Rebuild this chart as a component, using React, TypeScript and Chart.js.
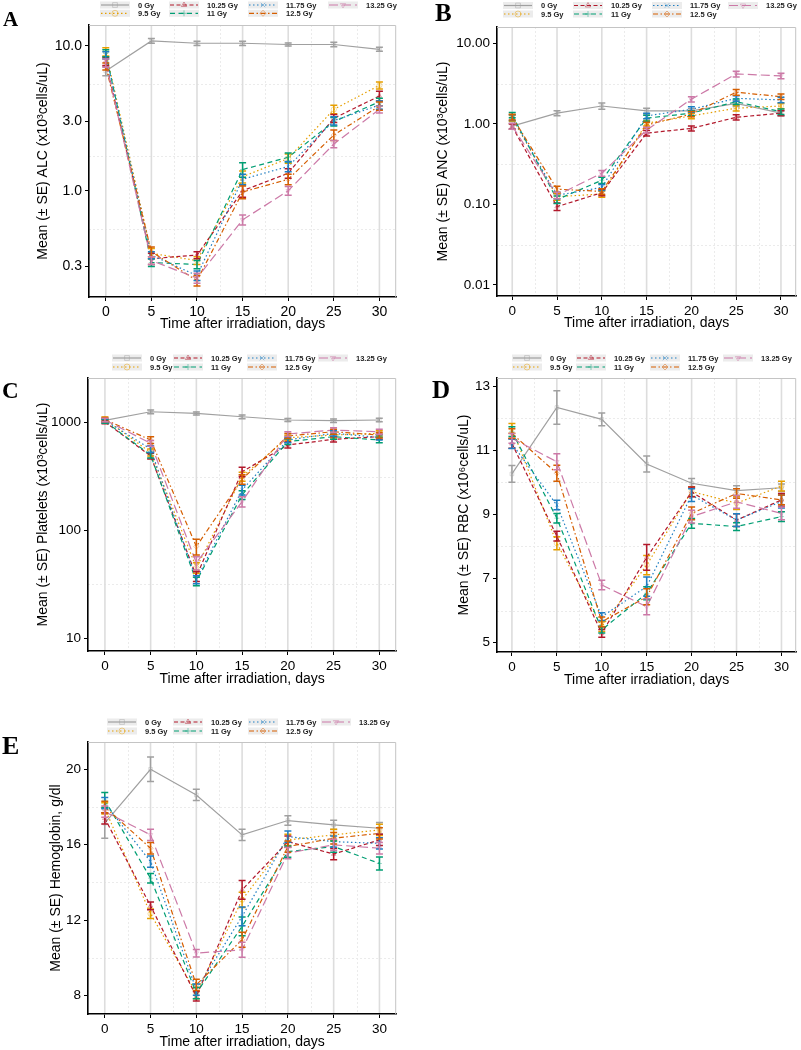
import React, { useEffect, useRef } from 'react';
import { Chart, registerables } from 'chart.js';

Chart.register(...registerables);

const FONT = '"Liberation Sans", Arial, Helvetica, sans-serif';
const SERIF = '"Liberation Serif", "Times New Roman", serif';
Chart.defaults.font.family = FONT;
Chart.defaults.color = '#000';

// ---------------- data ----------------
const DAYS = [0, 5, 10, 15, 20, 25, 30];
const MINOR_DAYS = [2.5, 7.5, 12.5, 17.5, 22.5, 27.5];
const GROUPS = ['0 Gy', '9.5 Gy', '10.25 Gy', '11 Gy', '11.75 Gy', '12.5 Gy', '13.25 Gy'];
const X_TITLE = 'Time after irradiation, days';

// ALC (x10^3 cells/uL)
const ALC_MEAN = [
  [6.7, 10.8, 10.4, 10.4, 10.2, 10.2, 9.45],
  [9.1, 0.37, 0.33, 1.25, 1.67, 3.64, 5.33],
  [7.8, 0.34, 0.36, 1.0, 1.32, 3.16, 4.5],
  [8.9, 0.32, 0.31, 1.4, 1.7, 3.0, 4.1],
  [8.6, 0.36, 0.26, 1.2, 1.47, 3.04, 3.9],
  [7.2, 0.38, 0.24, 0.98, 1.2, 2.42, 3.84],
  [7.6, 0.33, 0.25, 0.63, 1.0, 2.1, 3.64],
];
const ALC_SE = [
  [0.5, 0.4, 0.35, 0.35, 0.25, 0.35, 0.3],
  [0.6, 0.03, 0.02, 0.12, 0.12, 0.25, 0.3],
  [0.5, 0.03, 0.02, 0.1, 0.1, 0.2, 0.35],
  [0.5, 0.02, 0.02, 0.16, 0.12, 0.2, 0.25],
  [0.5, 0.02, 0.02, 0.1, 0.12, 0.2, 0.25],
  [0.4, 0.03, 0.02, 0.1, 0.1, 0.2, 0.25],
  [0.5, 0.02, 0.02, 0.05, 0.07, 0.12, 0.2],
];
const ALC_TICKS = [0.3, 1, 3, 10];
const ALC_TICK_LABELS = ['0.3', '1.0', '3.0', '10.0'];
const ALC_MINOR = [0.5477, 1.732, 5.477];

// ANC (x10^3 cells/uL)
const ANC_MEAN = [
  [0.94, 1.36, 1.67, 1.45, 1.45, 1.8, 1.36],
  [1.18, 0.125, 0.135, 1.02, 1.26, 1.57, 1.67],
  [0.93, 0.094, 0.14, 0.77, 0.88, 1.21, 1.36],
  [1.29, 0.115, 0.2, 1.18, 1.36, 1.89, 1.42],
  [1.2, 0.13, 0.163, 1.26, 1.52, 2.08, 1.99],
  [1.22, 0.155, 0.145, 0.97, 1.33, 2.48, 2.18],
  [0.94, 0.13, 0.244, 0.84, 2.03, 4.18, 3.95],
];
const ANC_SE = [
  [0.07, 0.1, 0.15, 0.12, 0.1, 0.15, 0.1],
  [0.1, 0.012, 0.012, 0.08, 0.1, 0.12, 0.13],
  [0.07, 0.01, 0.012, 0.06, 0.06, 0.09, 0.1],
  [0.1, 0.012, 0.018, 0.1, 0.1, 0.15, 0.11],
  [0.1, 0.012, 0.014, 0.1, 0.12, 0.16, 0.15],
  [0.1, 0.014, 0.012, 0.08, 0.1, 0.2, 0.17],
  [0.08, 0.012, 0.02, 0.07, 0.15, 0.35, 0.3],
];
const ANC_TICKS = [0.01, 0.1, 1, 10];
const ANC_TICK_LABELS = ['0.01', '0.10', '1.00', '10.00'];
const ANC_MINOR = [0.03162, 0.3162, 3.162];

// Platelets (x10^3 cells/uL)
const PLT_MEAN = [
  [1050, 1264, 1220, 1136, 1059, 1044, 1059],
  [1080, 530, 45, 316, 725, 768, 797],
  [1020, 490, 37.5, 351, 621, 701, 742],
  [1030, 500, 33.7, 214, 667, 742, 691],
  [1050, 570, 35, 238, 691, 797, 731],
  [1070, 691, 71, 299, 753, 825, 768],
  [1060, 644, 50, 185, 785, 855, 825],
];
const PLT_SE = [
  [40, 50, 40, 45, 35, 40, 40],
  [50, 40, 5, 30, 40, 45, 45],
  [40, 30, 4, 35, 40, 40, 40],
  [40, 30, 3, 20, 40, 40, 40],
  [40, 40, 3, 25, 40, 45, 40],
  [50, 50, 12, 30, 40, 45, 45],
  [40, 40, 7, 20, 40, 45, 45],
];
const PLT_TICKS = [10, 100, 1000];
const PLT_TICK_LABELS = ['10', '100', '1000'];
const PLT_MINOR = [31.62, 316.2];

// RBC (x10^6 cells/uL)
const RBC_MEAN = [
  [10.26, 12.33, 11.96, 10.57, 9.97, 9.74, 9.83],
  [11.68, 8.1, 5.5, 7.42, 9.71, 9.35, 9.88],
  [11.21, 8.32, 5.29, 7.66, 9.7, 8.82, 9.45],
  [11.58, 8.88, 5.4, 6.54, 8.72, 8.62, 8.93],
  [11.2, 9.29, 5.81, 6.75, 9.6, 8.82, 9.4],
  [11.52, 10.28, 5.65, 6.43, 9.03, 9.65, 9.45],
  [11.37, 10.64, 6.8, 6.12, 8.93, 9.39, 9.03],
];
const RBC_SE = [
  [0.26, 0.52, 0.2, 0.25, 0.15, 0.15, 0.12],
  [0.15, 0.2, 0.15, 0.3, 0.15, 0.2, 0.15],
  [0.15, 0.15, 0.12, 0.4, 0.15, 0.2, 0.2],
  [0.15, 0.15, 0.1, 0.2, 0.15, 0.12, 0.15],
  [0.15, 0.15, 0.12, 0.3, 0.2, 0.2, 0.2],
  [0.15, 0.25, 0.15, 0.25, 0.2, 0.15, 0.15],
  [0.15, 0.25, 0.15, 0.25, 0.2, 0.2, 0.2],
];
const RBC_TICKS = [5, 7, 9, 11, 13];
const RBC_TICK_LABELS = ['5', '7', '9', '11', '13'];
const RBC_MINOR = [6, 8, 10, 12];

// Hemoglobin (g/dl)
const HGB_MEAN = [
  [17.14, 20.0, 18.64, 16.52, 17.28, 17.05, 16.87],
  [17.93, 12.33, 8.12, 13.07, 16.25, 16.52, 16.78],
  [17.4, 12.75, 7.95, 13.6, 16.16, 15.5, 16.25],
  [18.37, 14.22, 8.12, 11.66, 15.63, 15.9, 15.0],
  [18.2, 15.1, 8.3, 12.19, 16.43, 16.16, 16.07],
  [18.0, 15.81, 8.56, 10.95, 15.9, 16.34, 16.6],
  [17.75, 16.52, 10.24, 10.42, 15.55, 15.99, 15.81],
];
const HGB_SE = [
  [0.8, 0.65, 0.3, 0.3, 0.25, 0.25, 0.3],
  [0.3, 0.25, 0.3, 0.4, 0.3, 0.3, 0.3],
  [0.3, 0.2, 0.25, 0.5, 0.3, 0.3, 0.3],
  [0.4, 0.25, 0.3, 0.5, 0.3, 0.3, 0.35],
  [0.3, 0.3, 0.3, 0.5, 0.3, 0.3, 0.3],
  [0.3, 0.3, 0.3, 0.4, 0.3, 0.3, 0.3],
  [0.3, 0.3, 0.2, 0.4, 0.3, 0.3, 0.3],
];
const HGB_TICKS = [8, 12, 16, 20];
const HGB_TICK_LABELS = ['8', '12', '16', '20'];
const HGB_MINOR = [10, 14, 18];

// ---------------- styles ----------------
const COLORS = ['#a0a0a0', '#E69F00', '#B2182B', '#009E73', '#1F7EC2', '#D55E00', '#CC79A7'];
const DASHES = [[], [1.5, 2.5], [4, 2.5], [5, 3.5], [1.5, 2.5], [5, 2.5, 1.5, 2.5], [9, 4]];
const SHAPES = ['rect', 'circle', 'triangle', 'cross', 'crossRot', 'rectRot', 'triangle'];
const ROTATIONS = [0, 0, 0, 0, 0, 0, 180];
const LEGEND_COLS = [[0, 1], [2, 3], [4, 5], [6]];

type Panel = {
  letter: string; letterSize: number; letterX: number; letterY: number;
  x: number; y: number; w: number; h: number;
  area: { l: number; t: number; r: number; b: number };
  xMin: number; xMax: number;
  log: boolean; yMin: number; yMax: number;
  ticks: number[]; tickLabels: string[]; minor: number[];
  mean: number[][]; se: number[][];
  yTitle: string; yTitleX: number; xTitleY: number;
  legendX: number; legendRows: number[]; legendCols: number[];
  tickSize: number;
};

const PANELS: Panel[] = [
  {
    letter: 'A', letterSize: 21, letterX: 3, letterY: 26,
    x: 0, y: 0, w: 401, h: 334, area: { l: 89, t: 25, r: 400, b: 297 },
    xMin: -1.84, xMax: 31.84, log: true, yMin: 0.185, yMax: 13.9,
    ticks: ALC_TICKS, tickLabels: ALC_TICK_LABELS, minor: ALC_MINOR, mean: ALC_MEAN, se: ALC_SE,
    yTitle: 'Mean (± SE) ALC (x10³cells/uL)', yTitleX: 43, xTitleY: 324,
    legendX: 100, legendRows: [5, 13.3], legendCols: [0, 69, 148, 228], tickSize: 14,
  },
  {
    letter: 'B', letterSize: 25, letterX: 34, letterY: 21,
    x: 401, y: 0, w: 400, h: 334, area: { l: 96, t: 27, r: 397, b: 296 },
    xMin: -1.7, xMax: 31.7, log: true, yMin: 0.0073, yMax: 16.0,
    ticks: ANC_TICKS, tickLabels: ANC_TICK_LABELS, minor: ANC_MINOR, mean: ANC_MEAN, se: ANC_SE,
    yTitle: 'Mean (± SE) ANC (x10³cells/uL)', yTitleX: 42, xTitleY: 323,
    legendX: 102, legendRows: [5.5, 14], legendCols: [0, 70, 149, 225], tickSize: 13.5,
  },
  {
    letter: 'C', letterSize: 23, letterX: 2, letterY: 64,
    x: 0, y: 334, w: 401, h: 358, area: { l: 88, t: 44, r: 398, b: 317 },
    xMin: -1.85, xMax: 31.85, log: true, yMin: 7.6, yMax: 2600,
    ticks: PLT_TICKS, tickLabels: PLT_TICK_LABELS, minor: PLT_MINOR, mean: PLT_MEAN, se: PLT_SE,
    yTitle: 'Mean (± SE) Platelets (x10³cells/uL)', yTitleX: 43, xTitleY: 345,
    legendX: 112, legendRows: [24, 33], legendCols: [0, 61, 135, 206], tickSize: 13.5,
  },
  {
    letter: 'D', letterSize: 25, letterX: 31, letterY: 64,
    x: 401, y: 334, w: 400, h: 358, area: { l: 96, t: 44, r: 397, b: 318 },
    xMin: -1.66, xMax: 31.64, log: false, yMin: 4.71, yMax: 13.25,
    ticks: RBC_TICKS, tickLabels: RBC_TICK_LABELS, minor: RBC_MINOR, mean: RBC_MEAN, se: RBC_SE,
    yTitle: 'Mean (± SE) RBC (x10⁶cells/uL)', yTitleX: 63, xTitleY: 346,
    legendX: 111, legendRows: [24, 33], legendCols: [0, 64, 138, 211], tickSize: 13.5,
  },
  {
    letter: 'E', letterSize: 26, letterX: 2, letterY: 62,
    x: 0, y: 692, w: 401, h: 358, area: { l: 88, t: 50, r: 400, b: 322 },
    xMin: -1.83, xMax: 31.83, log: false, yMin: 7.01, yMax: 21.45,
    ticks: HGB_TICKS, tickLabels: HGB_TICK_LABELS, minor: HGB_MINOR, mean: HGB_MEAN, se: HGB_SE,
    yTitle: 'Mean (± SE) Hemoglobin, g/dl', yTitleX: 56, xTitleY: 349.7,
    legendX: 107, legendRows: [30, 39], legendCols: [0, 66, 141, 214], tickSize: 13.5,
  },
];

function withAlpha(hex: string, a: number) {
  const n = parseInt(hex.slice(1), 16);
  return `rgba(${(n >> 16) & 255},${(n >> 8) & 255},${n & 255},${a})`;
}

function drawShape(ctx: CanvasRenderingContext2D, shape: string, rot: number, x: number, y: number, r: number) {
  ctx.save();
  ctx.translate(x, y);
  ctx.rotate((rot * Math.PI) / 180);
  ctx.beginPath();
  switch (shape) {
    case 'rect': ctx.rect(-r * 0.8, -r * 0.8, r * 1.6, r * 1.6); break;
    case 'circle': ctx.arc(0, 0, r, 0, Math.PI * 2); break;
    case 'triangle':
      ctx.moveTo(0, -r); ctx.lineTo(r * 0.87, r * 0.5); ctx.lineTo(-r * 0.87, r * 0.5); ctx.closePath(); break;
    case 'cross':
      ctx.moveTo(0, -r); ctx.lineTo(0, r); ctx.moveTo(-r, 0); ctx.lineTo(r, 0); break;
    case 'crossRot': {
      const d = r * 0.75;
      ctx.moveTo(-d, -d); ctx.lineTo(d, d); ctx.moveTo(d, -d); ctx.lineTo(-d, d); break;
    }
    case 'rectRot':
      ctx.moveTo(0, -r); ctx.lineTo(r, 0); ctx.lineTo(0, r); ctx.lineTo(-r, 0); ctx.closePath(); break;
  }
  ctx.stroke();
  ctx.restore();
}

function buildConfig(p: Panel): any {
  const W = p.w;
  const H = p.h;
  const datasets = GROUPS.map((name, g) => ({
    label: name,
    data: DAYS.map((d, i) => ({ x: d, y: p.mean[g][i] })),
    borderColor: COLORS[g],
    backgroundColor: COLORS[g],
    borderWidth: 1.2,
    borderDash: DASHES[g],
    tension: 0,
    pointStyle: SHAPES[g],
    pointRotation: ROTATIONS[g],
    pointRadius: 2.6,
    pointBorderWidth: 0.8,
    pointBorderColor: withAlpha(COLORS[g], 0.45),
    pointBackgroundColor: 'rgba(0,0,0,0)',
    order: GROUPS.length - 1 - g,
    clip: false,
  }));

  const decor = {
    id: 'decor' + p.letter,
    beforeDraw(chart: any) {
      const { ctx, chartArea: a, scales } = chart;
      const xs = scales.x;
      const ys = scales.y;
      ctx.save();
      ctx.beginPath();
      ctx.rect(a.left, a.top, a.right - a.left, a.bottom - a.top);
      ctx.clip();
      // minor grid (dotted, faint)
      ctx.strokeStyle = '#ebebeb';
      ctx.lineWidth = 1;
      ctx.setLineDash([2, 2]);
      MINOR_DAYS.forEach((d) => {
        const px = Math.round(xs.getPixelForValue(d)) + 0.5;
        ctx.beginPath(); ctx.moveTo(px, a.top); ctx.lineTo(px, a.bottom); ctx.stroke();
      });
      p.minor.forEach((v) => {
        const py = Math.round(ys.getPixelForValue(v)) + 0.5;
        ctx.beginPath(); ctx.moveTo(a.left, py); ctx.lineTo(a.right, py); ctx.stroke();
      });
      ctx.setLineDash([]);
      // major vertical grid
      ctx.strokeStyle = '#dddddd';
      ctx.lineWidth = 1.6;
      DAYS.forEach((d) => {
        const px = xs.getPixelForValue(d);
        ctx.beginPath(); ctx.moveTo(px, a.top); ctx.lineTo(px, a.bottom); ctx.stroke();
      });
      ctx.restore();
    },
    afterDatasetsDraw(chart: any) {
      const { ctx, scales } = chart;
      const xs = scales.x;
      const ys = scales.y;
      ctx.save();
      ctx.lineWidth = 1.5;
      ctx.setLineDash([]);
      GROUPS.forEach((_, g) => {
        ctx.strokeStyle = COLORS[g];
        DAYS.forEach((d, i) => {
          const m = p.mean[g][i];
          const s = p.se[g][i];
          const px = xs.getPixelForValue(d);
          const y1 = ys.getPixelForValue(m - s);
          const y2 = ys.getPixelForValue(m + s);
          ctx.beginPath();
          ctx.moveTo(px, y1); ctx.lineTo(px, y2);
          ctx.moveTo(px - 3.5, y1); ctx.lineTo(px + 3.5, y1);
          ctx.moveTo(px - 3.5, y2); ctx.lineTo(px + 3.5, y2);
          ctx.stroke();
        });
      });
      ctx.restore();
    },
    afterDraw(chart: any) {
      const { ctx, chartArea: a } = chart;
      ctx.save();
      // panel border (top, right)
      ctx.strokeStyle = '#c4c4c4';
      ctx.lineWidth = 1;
      ctx.beginPath();
      ctx.moveTo(a.left, a.top + 0.5);
      ctx.lineTo(a.right - 0.5, a.top + 0.5);
      ctx.lineTo(a.right - 0.5, a.bottom);
      ctx.stroke();
      // legend
      LEGEND_COLS.forEach((col, c) => {
        col.forEach((g, r) => {
          const kx = p.legendX + p.legendCols[c];
          const ky = p.legendRows[r];
          ctx.fillStyle = '#ececec';
          ctx.fillRect(kx, ky - 3.5, 30, 7);
          ctx.strokeStyle = COLORS[g];
          ctx.lineWidth = 1.2;
          ctx.setLineDash(DASHES[g]);
          ctx.beginPath(); ctx.moveTo(kx + 1, ky); ctx.lineTo(kx + 29, ky); ctx.stroke();
          ctx.setLineDash([]);
          ctx.strokeStyle = withAlpha(COLORS[g], 0.55);
          ctx.lineWidth = 0.8;
          drawShape(ctx, SHAPES[g], ROTATIONS[g], kx + 15, ky, 3);
          ctx.fillStyle = '#222';
          ctx.font = `bold 7.5px ${FONT}`;
          ctx.textAlign = 'left';
          ctx.textBaseline = 'middle';
          ctx.fillText(GROUPS[g], kx + 38, ky + 0.5);
        });
      });
      // panel letter
      ctx.fillStyle = '#000';
      ctx.font = `bold ${p.letterSize}px ${SERIF}`;
      ctx.textAlign = 'left';
      ctx.textBaseline = 'alphabetic';
      ctx.fillText(p.letter, p.letterX, p.letterY);
      ctx.restore();
    },
  };

  return {
    type: 'line',
    data: { datasets },
    plugins: [decor],
    options: {
      responsive: false,
      animation: false,
      devicePixelRatio: 1,
      events: [],
      layout: { padding: { left: 0, top: p.area.t, right: W - p.area.r, bottom: 0 } },
      plugins: { legend: { display: false }, tooltip: { enabled: false } },
      scales: {
        x: {
          type: 'linear',
          min: p.xMin,
          max: p.xMax,
          afterBuildTicks: (s: any) => { s.ticks = DAYS.map((v) => ({ value: v })); },
          afterFit: (s: any) => { s.height = H - p.area.b; },
          ticks: {
            autoSkip: false, maxRotation: 0, padding: 3, color: '#000',
            font: { size: p.tickSize, family: FONT },
            callback: (v: any) => String(v),
          },
          grid: { drawOnChartArea: false, drawTicks: true, tickLength: 4, tickColor: '#000', tickWidth: 1 },
          border: { display: true, color: '#000', width: 1.6 },
          title: {
            display: true, text: X_TITLE, color: '#000',
            font: { size: 14, family: FONT },
            padding: { top: 0, bottom: H - 8.4 - p.xTitleY },
          },
        },
        y: {
          type: p.log ? 'logarithmic' : 'linear',
          min: p.yMin,
          max: p.yMax,
          afterBuildTicks: (s: any) => { s.ticks = p.ticks.map((v) => ({ value: v })); },
          afterFit: (s: any) => { s.width = p.area.l; },
          ticks: {
            autoSkip: false, padding: 3, color: '#000',
            font: { size: p.tickSize, family: FONT },
            callback: (_v: any, i: number) => p.tickLabels[i],
          },
          grid: { drawOnChartArea: false, drawTicks: true, tickLength: 4, tickColor: '#000', tickWidth: 1 },
          border: { display: true, color: '#000', width: 1.6 },
          title: {
            display: true, text: p.yTitle, color: '#000',
            font: { size: 14, family: FONT },
            padding: { top: p.yTitleX - 8.4, bottom: 0 },
          },
        },
      },
    },
  };
}

function PanelChart({ p }: { p: Panel }) {
  const ref = useRef<HTMLCanvasElement>(null);
  useEffect(() => {
    if (!ref.current) return;
    const chart = new Chart(ref.current, buildConfig(p));
    return () => chart.destroy();
  }, [p]);
  return (
    <canvas
      ref={ref}
      width={p.w}
      height={p.h}
      style={{ position: 'absolute', left: p.x, top: p.y, width: p.w, height: p.h }}
    />
  );
}

export default function App() {
  return (
    <div style={{ position: 'absolute', left: 0, top: 0, width: 801, height: 1050, background: '#fff' }}>
      {PANELS.map((p) => (
        <PanelChart key={p.letter} p={p} />
      ))}
    </div>
  );
}
